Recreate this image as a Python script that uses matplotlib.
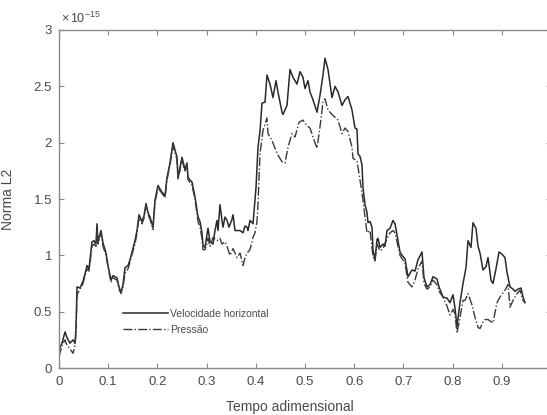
import matplotlib
matplotlib.use("Agg")
import matplotlib.pyplot as plt
import numpy as np

# ---- data (values in units of 1e-15) ----
PX0, PXW = 59.0, 492.0  # pixel mapping used while reading the picture

vel_px = [59, 62, 65, 67, 70, 73, 75, 76, 77, 80, 82, 83, 86, 87, 89, 92, 94, 96, 97, 98,
          101, 103, 106, 108, 111, 113, 117, 119, 121, 123, 125, 128, 130, 133, 135, 137,
          139, 142, 144, 146, 148, 150, 153, 155, 158, 162, 165, 167, 170, 173, 177, 178,
          182, 185, 187, 188, 192, 195, 198, 200, 202, 203, 205, 207, 208, 210, 213, 215,
          217, 218, 220, 222, 223, 225, 227, 229, 232, 233, 235, 237, 240, 243, 245, 247,
          248, 250, 253, 256, 258, 260, 262, 265, 267, 270, 273, 276, 278, 282, 283, 287,
          290, 293, 297, 300, 303, 305, 308, 310, 313, 317, 320, 323, 325, 328, 332, 335,
          338, 342, 345, 348, 352, 355, 357, 358, 360, 362, 363, 365, 367, 368, 370, 372,
          373, 375, 377, 378, 380, 383, 385, 387, 390, 393, 395, 397, 400, 402, 405, 408,
          412, 415, 418, 422, 424, 427, 430, 433, 437, 439, 443, 447, 450, 453, 455, 457,
          460, 463, 466, 468, 471, 473, 476, 478, 480, 483, 486, 488, 491, 493, 496, 499,
          502, 505, 507, 510, 513, 515, 518, 521, 523, 525]
vel_val = [0.16, 0.22, 0.32, 0.27, 0.22, 0.25, 0.22, 0.35, 0.72, 0.71, 0.75, 0.77, 0.87, 0.91,
           0.88, 1.12, 1.13, 1.10, 1.28, 1.12, 1.22, 1.11, 1.02, 0.91, 0.78, 0.82, 0.80, 0.72,
           0.67, 0.74, 0.89, 0.91, 0.96, 1.06, 1.13, 1.22, 1.36, 1.30, 1.35, 1.46, 1.38, 1.34,
           1.25, 1.49, 1.62, 1.56, 1.53, 1.69, 1.82, 2.00, 1.87, 1.69, 1.87, 1.76, 1.82, 1.69,
           1.65, 1.52, 1.34, 1.30, 1.20, 1.09, 1.07, 1.18, 1.24, 1.12, 1.10, 1.22, 1.31, 1.22,
           1.45, 1.31, 1.25, 1.34, 1.31, 1.25, 1.32, 1.36, 1.22, 1.22, 1.22, 1.20, 1.26, 1.25,
           1.22, 1.31, 1.28, 1.60, 1.96, 2.10, 2.35, 2.36, 2.60, 2.52, 2.40, 2.55, 2.45, 2.27,
           2.25, 2.33, 2.65, 2.58, 2.52, 2.63, 2.58, 2.48, 2.55, 2.45, 2.38, 2.27, 2.42, 2.60,
           2.75, 2.65, 2.40, 2.50, 2.45, 2.33, 2.38, 2.41, 2.29, 2.13, 2.12, 1.90, 1.88, 1.80,
           1.60, 1.45, 1.38, 1.29, 1.30, 1.25, 1.05, 0.96, 1.14, 1.15, 1.07, 1.10, 1.08, 1.22,
           1.24, 1.31, 1.28, 1.18, 1.03, 1.00, 0.97, 0.81, 0.87, 0.86, 0.96, 1.03, 0.80, 0.72,
           0.74, 0.81, 0.79, 0.72, 0.63, 0.62, 0.58, 0.65, 0.53, 0.37, 0.58, 0.75, 0.89, 1.13,
           1.07, 1.29, 1.24, 1.08, 1.02, 0.87, 0.90, 0.98, 0.78, 0.75, 0.88, 1.03, 1.01, 0.98,
           0.85, 0.72, 0.70, 0.68, 0.70, 0.71, 0.63, 0.58]

pre_px = [59, 62, 65, 67, 70, 73, 75, 76, 77, 80, 82, 83, 86, 87, 89, 92, 94, 96, 97, 98,
          101, 103, 106, 108, 111, 113, 117, 119, 121, 123, 125, 128, 130, 133, 135, 137,
          139, 142, 144, 146, 148, 150, 153, 155, 158, 162, 165, 167, 170, 173, 177, 178,
          182, 185, 187, 188, 192, 195, 198, 200, 202, 203, 205, 207, 208, 210, 213, 217,
          220, 222, 225, 227, 230, 233, 237, 240, 243, 245, 247, 250, 253, 255, 257, 258,
          260, 263, 267, 268, 272, 275, 278, 282, 285, 288, 292, 295, 299, 303, 307, 310,
          313, 317, 320, 323, 325, 328, 332, 338, 342, 345, 348, 352, 353, 357, 360, 363,
          365, 367, 370, 373, 375, 377, 380, 383, 387, 390, 393, 395, 397, 400, 402, 405,
          408, 412, 415, 418, 422, 424, 427, 430, 433, 437, 439, 443, 447, 450, 453, 455,
          457, 460, 463, 465, 468, 472, 475, 478, 480, 483, 485, 488, 493, 497, 500, 505,
          508, 510, 513, 517, 520, 523, 525]
pre_val = [0.10, 0.20, 0.25, 0.20, 0.17, 0.13, 0.20, 0.30, 0.65, 0.70, 0.73, 0.75, 0.85, 0.88,
           0.86, 1.08, 1.10, 1.08, 1.22, 1.10, 1.20, 1.08, 1.00, 0.90, 0.76, 0.80, 0.78, 0.70,
           0.66, 0.72, 0.84, 0.88, 0.94, 1.04, 1.10, 1.20, 1.33, 1.28, 1.33, 1.44, 1.36, 1.32,
           1.23, 1.47, 1.60, 1.55, 1.51, 1.67, 1.80, 1.97, 1.85, 1.67, 1.85, 1.74, 1.80, 1.67,
           1.62, 1.50, 1.30, 1.25, 1.15, 1.05, 1.05, 1.10, 1.15, 1.08, 1.16, 1.13, 1.15, 1.10,
           1.12, 1.08, 1.00, 1.06, 0.98, 1.02, 0.91, 0.98, 1.02, 1.05, 1.16, 1.20, 1.30, 1.46,
           1.90, 2.11, 2.22, 2.08, 2.02, 1.95, 1.89, 1.83, 1.82, 1.96, 2.08, 2.05, 2.18, 2.20,
           2.15, 2.13, 2.05, 1.95, 2.14, 2.36, 2.39, 2.29, 2.25, 2.20, 2.08, 2.13, 2.10, 1.96,
           1.86, 1.84, 1.67, 1.49, 1.34, 1.20, 1.22, 0.99, 0.95, 1.10, 1.04, 1.06, 1.15, 1.20,
           1.22, 1.20, 1.12, 1.00, 0.97, 0.93, 0.76, 0.72, 0.78, 0.88, 0.95, 0.75, 0.70, 0.72,
           0.78, 0.74, 0.68, 0.63, 0.55, 0.47, 0.52, 0.48, 0.31, 0.45, 0.60, 0.60, 0.66, 0.56,
           0.45, 0.36, 0.35, 0.41, 0.43, 0.43, 0.40, 0.58, 0.63, 0.69, 0.74, 0.54, 0.60, 0.66,
           0.69, 0.60, 0.58]

labels = ["Velocidade horizontal", "Pressão"]
xlabel = "Tempo adimensional"
ylabel = "Norma L2"
scale_text = r"$\times\,10^{-15}$"
xticks = [0, 0.1, 0.2, 0.3, 0.4, 0.5, 0.6, 0.7, 0.8, 0.9, 1.0]
xticklabels = ['0', '0.1', '0.2', '0.3', '0.4', '0.5', '0.6', '0.7', '0.8', '0.9', '1']
yticks = [0, 0.5, 1, 1.5, 2, 2.5, 3]
yticklabels = ['0', '0.5', '1', '1.5', '2', '2.5', '3']

t_vel = (np.array(vel_px) - PX0) / PXW
t_pre = (np.array(pre_px) - PX0) / PXW
v = np.array(vel_val)
p = np.array(pre_val)

plt.rcParams['font.family'] = ['Liberation Sans', 'DejaVu Sans']
plt.rcParams['mathtext.fontset'] = 'custom'
plt.rcParams['mathtext.rm'] = 'Liberation Sans'
plt.rcParams['mathtext.it'] = 'Liberation Sans'
txt_col = '#4a4a4a'
spine_col = '#8a8a8a'

fig = plt.figure(figsize=(5.47, 4.15), dpi=100)
ax = fig.add_axes([59 / 547, 47 / 415, 492 / 547, 338 / 415])

ax.plot(t_vel, v, color='#2a2a2a', lw=1.1, ls='-', label=labels[0])
ax.plot(t_pre, p, color='#3a3a3a', lw=1.0, ls='-.', label=labels[1])

ax.set_xlim(0, 1)
ax.set_ylim(0, 3)
ax.set_xticks(xticks)
ax.set_xticklabels(xticklabels)
ax.set_yticks(yticks)
ax.set_yticklabels(yticklabels)

ax.text(0.005, 1.012, scale_text, transform=ax.transAxes, ha='left', va='bottom',
        fontsize=9, color=txt_col)

ax.tick_params(direction='in', top=True, right=True, length=3.5, width=0.8,
               color=spine_col, labelcolor=txt_col, labelsize=9.5)
ax.tick_params(axis='x', pad=6)
ax.tick_params(axis='y', pad=5)
for s in ax.spines.values():
    s.set_color(spine_col)
    s.set_linewidth(1.0)

ax.set_xlabel(xlabel, fontsize=10, color=txt_col)
ax.set_ylabel(ylabel, fontsize=10, color=txt_col)
ax.xaxis.set_label_coords((290 - 59) / 492, -0.095)
ax.yaxis.set_label_coords(-0.09, 0.5)

leg = ax.legend(loc='upper left', bbox_to_anchor=(0.13, 0.175), frameon=False,
                fontsize=7.5, handlelength=4.3, handletextpad=0.2, labelspacing=0.6,
                borderaxespad=0, borderpad=0)
for t in leg.get_texts():
    t.set_color(txt_col)

fig.savefig('out.png', dpi=100)
